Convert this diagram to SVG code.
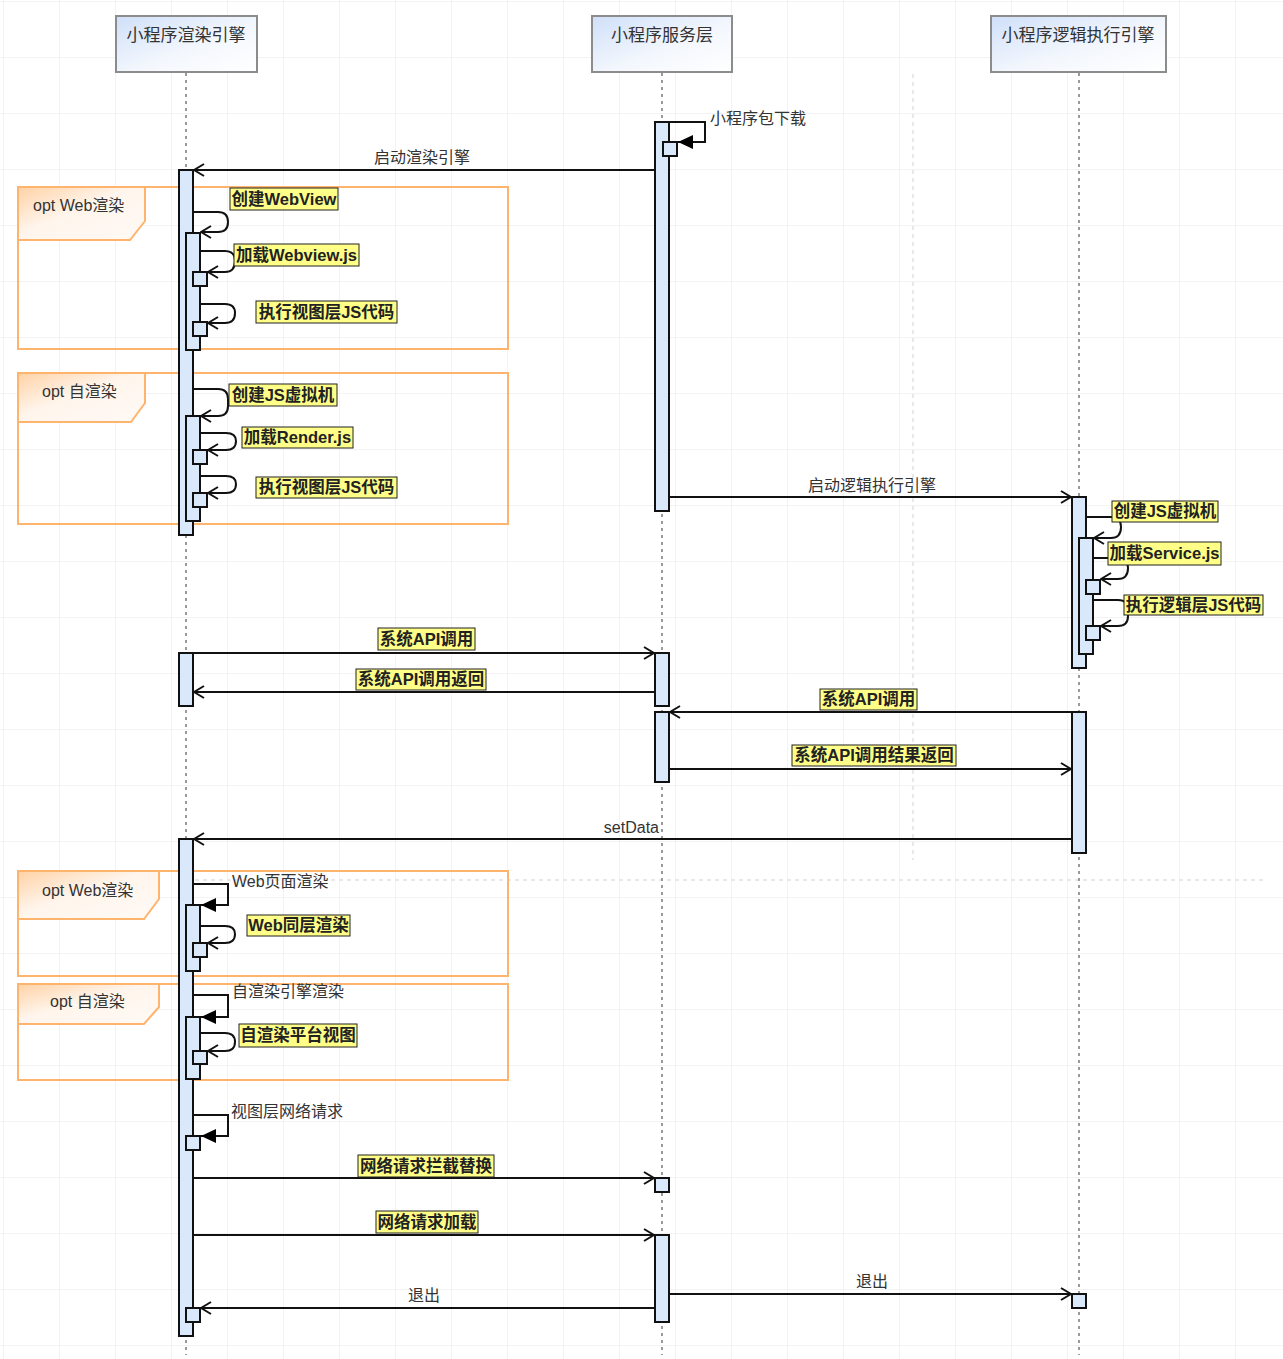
<svg xmlns="http://www.w3.org/2000/svg" width="1283" height="1359" viewBox="0 0 1283 1359">
<defs>
<pattern id="grid" x="3" y="1" width="56" height="56" patternUnits="userSpaceOnUse"><path d="M0 0.5 H56 M0.5 0 V56" fill="none" stroke="#f3f3f3" stroke-width="1"/></pattern>
<linearGradient id="hdrg" x1="0" y1="0" x2="1" y2="1"><stop offset="0" stop-color="#cfdff9"/><stop offset="0.55" stop-color="#f3f7fd"/><stop offset="1" stop-color="#ffffff"/></linearGradient>
<linearGradient id="tabg" x1="0" y1="0" x2="1" y2="1"><stop offset="0" stop-color="#ffd2a6"/><stop offset="0.45" stop-color="#fff5ec"/><stop offset="1" stop-color="#fffaf6"/></linearGradient>
<marker id="open" viewBox="0 0 12 14" refX="11" refY="7" markerWidth="12" markerHeight="14" markerUnits="userSpaceOnUse" orient="auto"><path d="M1 1 L11 7 L1 13" fill="none" stroke="#111" stroke-width="2"/></marker>
<marker id="solid" viewBox="0 0 15 14" refX="15" refY="7" markerWidth="15" markerHeight="14" markerUnits="userSpaceOnUse" orient="auto"><path d="M0 0 L15 7 L0 14 Z" fill="#000"/></marker>
</defs>
<style>
.hdr{fill:url(#hdrg);stroke:#8c8c8c;stroke-width:2}
.hdrt{font-family:"Liberation Sans","Noto Sans CJK SC",sans-serif;font-size:17px;fill:#333;text-anchor:middle}
.life{stroke:#9a9a9a;stroke-width:2;stroke-dasharray:3 4;fill:none}
.guide{stroke:#e2e2e2;stroke-width:1.5;stroke-dasharray:4 4;fill:none}
.act{fill:#dae8fc;stroke:#111;stroke-width:2}
.msg{stroke:#111;stroke-width:2;fill:none}
.async{marker-end:url(#open)}
.sync{marker-end:url(#solid)}
.frame{fill:none;stroke:#ffb46e;stroke-width:2}
.tab{fill:url(#tabg);stroke:#ffb46e;stroke-width:2}
.tabt{font-family:"Liberation Sans","Noto Sans CJK SC",sans-serif;font-size:16px;fill:#333}
.lbl{font-family:"Liberation Sans","Noto Sans CJK SC",sans-serif;font-size:16px;fill:#333}
.mid{text-anchor:middle}
.hl{fill:#ffff88;stroke:#222;stroke-width:1}
.hlt{font-family:"Liberation Sans","Noto Sans CJK SC",sans-serif;font-size:16.5px;font-weight:bold;fill:#222;text-anchor:middle}
</style>
<rect x="0" y="0" width="1283" height="1359" fill="#ffffff"/>
<rect x="0" y="0" width="1283" height="1359" fill="url(#grid)"/>
<path class="guide" d="M913 74 V860 M195 880 H1265"/>

<g id="frames">
<g id="frame-web-1"><rect class="frame" x="18" y="187" width="490" height="162"/><polygon class="tab" points="18,187 145,187 145,221 130,240 18,240"/><text class="tabt" x="33" y="211">opt Web渲染</text></g>
<g id="frame-self-1"><rect class="frame" x="18" y="373" width="490" height="151"/><polygon class="tab" points="18,373 145,373 145,403 131,422 18,422"/><text class="tabt" x="42" y="397">opt 自渲染</text></g>
<g id="frame-web-2"><rect class="frame" x="18" y="871" width="490" height="105"/><polygon class="tab" points="18,871 159,871 159,899 144,919 18,919"/><text class="tabt" x="42" y="896">opt Web渲染</text></g>
<g id="frame-self-2"><rect class="frame" x="18" y="984" width="490" height="96"/><polygon class="tab" points="18,984 159,984 159,1007 144,1024 18,1024"/><text class="tabt" x="50" y="1007">opt 自渲染</text></g>
</g>

<g id="render-engine">
<rect class="hdr" x="116" y="16" width="141" height="56"/>
<text class="hdrt" x="186" y="41">小程序渲染引擎</text>
<path class="life" d="M186 73 V1355"/>
</g>
<g id="service-layer">
<rect class="hdr" x="592" y="16" width="140" height="56"/>
<text class="hdrt" x="662" y="41">小程序服务层</text>
<path class="life" d="M662 73 V1355"/>
</g>
<g id="logic-engine">
<rect class="hdr" x="991" y="16" width="175" height="56"/>
<text class="hdrt" x="1078" y="41">小程序逻辑执行引擎</text>
<path class="life" d="M1079 73 V1355"/>
</g>

<g id="activations">
<rect class="act" x="655" y="122" width="14" height="389"/>
<rect class="act" x="663" y="142" width="14" height="14"/>
<rect class="act" x="179" y="170" width="14" height="365"/>
<rect class="act" x="186" y="233" width="14" height="117"/>
<rect class="act" x="193" y="272" width="14" height="14"/>
<rect class="act" x="193" y="322" width="14" height="14"/>
<rect class="act" x="186" y="416" width="14" height="105"/>
<rect class="act" x="193" y="450" width="14" height="14"/>
<rect class="act" x="193" y="493" width="14" height="14"/>
<rect class="act" x="1072" y="497" width="14" height="171"/>
<rect class="act" x="1079" y="538" width="14" height="116"/>
<rect class="act" x="1086" y="580" width="14" height="14"/>
<rect class="act" x="1086" y="626" width="14" height="14"/>
<rect class="act" x="179" y="653" width="14" height="53"/>
<rect class="act" x="655" y="653" width="14" height="53"/>
<rect class="act" x="655" y="712" width="14" height="70"/>
<rect class="act" x="1072" y="712" width="14" height="141"/>
<rect class="act" x="179" y="839" width="14" height="497"/>
<rect class="act" x="186" y="905" width="14" height="66"/>
<rect class="act" x="193" y="943" width="14" height="14"/>
<rect class="act" x="186" y="1017" width="14" height="62"/>
<rect class="act" x="193" y="1051" width="14" height="13"/>
<rect class="act" x="186" y="1136" width="14" height="14"/>
<rect class="act" x="655" y="1178" width="14" height="14"/>
<rect class="act" x="655" y="1235" width="14" height="87"/>
<rect class="act" x="186" y="1308" width="14" height="14"/>
<rect class="act" x="1072" y="1294" width="14" height="14"/>
</g>

<g id="connectors">
<path class="msg sync" d="M669 122 H705 V142 H678"/>
<path class="msg async" d="M655 170 H194"/>
<path class="msg async" d="M193 212 H218 Q228 212 228 222 Q228 232 218 232 H201"/>
<path class="msg async" d="M200 251 H225 Q235 251 235 261 Q235 272 225 272 H208"/>
<path class="msg async" d="M200 304 H225 Q235 304 235 313 Q235 323 225 323 H208"/>
<path class="msg async" d="M193 389 H218 Q228 389 228 399 V406 Q228 416 218 416 H201"/>
<path class="msg async" d="M200 433 H226 Q236 433 236 441 Q236 450 226 450 H208"/>
<path class="msg async" d="M200 476 H226 Q236 476 236 484 Q236 493 226 493 H208"/>
<path class="msg async" d="M669 497 H1071"/>
<path class="msg async" d="M1086 517 H1111 Q1121 517 1121 527 Q1121 538 1111 538 H1094"/>
<path class="msg async" d="M1093 558 H1118 Q1128 558 1128 568 Q1128 579 1118 579 H1101"/>
<path class="msg async" d="M1093 600 H1118 Q1128 600 1128 610 V616 Q1128 626 1118 626 H1101"/>
<path class="msg async" d="M193 653 H654"/>
<path class="msg async" d="M655 692 H194"/>
<path class="msg async" d="M1072 712 H670"/>
<path class="msg async" d="M669 769 H1071"/>
<path class="msg async" d="M1072 839 H194"/>
<path class="msg sync" d="M193 884 H228 V905 H201"/>
<path class="msg async" d="M200 926 H225 Q235 926 235 934 Q235 943 225 943 H208"/>
<path class="msg sync" d="M193 995 H228 V1017 H201"/>
<path class="msg async" d="M200 1033 H225 Q235 1033 235 1042 Q235 1051 225 1051 H208"/>
<path class="msg sync" d="M193 1115 H228 V1136 H201"/>
<path class="msg async" d="M193 1178 H654"/>
<path class="msg async" d="M193 1235 H654"/>
<path class="msg async" d="M655 1308 H201"/>
<path class="msg async" d="M669 1294 H1071"/>
</g>

<g id="labels">
<text class="lbl" x="710" y="124">小程序包下载</text>
<text class="lbl mid" x="422" y="163">启动渲染引擎</text>
<text class="lbl mid" x="872" y="491">启动逻辑执行引擎</text>
<text class="lbl" x="659" y="833" text-anchor="end">setData</text>
<text class="lbl" x="232" y="887">Web页面渲染</text>
<text class="lbl" x="232" y="997">自渲染引擎渲染</text>
<text class="lbl" x="231" y="1117">视图层网络请求</text>
<text class="lbl mid" x="424" y="1301">退出</text>
<text class="lbl mid" x="872" y="1287">退出</text>

<rect class="hl" x="230" y="188" width="108" height="22"/><text class="hlt" x="284" y="205">创建WebView</text>
<rect class="hl" x="234" y="244" width="125" height="22"/><text class="hlt" x="296.5" y="261">加载Webview.js</text>
<rect class="hl" x="256" y="301" width="141" height="22"/><text class="hlt" x="326.5" y="318">执行视图层JS代码</text>
<rect class="hl" x="229" y="384" width="108" height="22"/><text class="hlt" x="283" y="401">创建JS虚拟机</text>
<rect class="hl" x="242" y="427" width="111" height="21"/><text class="hlt" x="297.5" y="443">加载Render.js</text>
<rect class="hl" x="256" y="477" width="141" height="21"/><text class="hlt" x="326.5" y="493">执行视图层JS代码</text>
<rect class="hl" x="1112" y="501" width="106" height="21"/><text class="hlt" x="1165" y="517">创建JS虚拟机</text>
<rect class="hl" x="1108" y="542" width="113" height="23"/><text class="hlt" x="1164.5" y="559">加载Service.js</text>
<rect class="hl" x="1124" y="595" width="139" height="20"/><text class="hlt" x="1193.5" y="611">执行逻辑层JS代码</text>
<rect class="hl" x="378" y="628" width="97" height="22"/><text class="hlt" x="426.5" y="645">系统API调用</text>
<rect class="hl" x="356" y="669" width="130" height="21"/><text class="hlt" x="421" y="685">系统API调用返回</text>
<rect class="hl" x="820" y="689" width="97" height="21"/><text class="hlt" x="868.5" y="705">系统API调用</text>
<rect class="hl" x="792" y="745" width="164" height="21"/><text class="hlt" x="874" y="761">系统API调用结果返回</text>
<rect class="hl" x="247" y="915" width="103" height="21"/><text class="hlt" x="298.5" y="931">Web同层渲染</text>
<rect class="hl" x="239" y="1024" width="118" height="23"/><text class="hlt" x="298" y="1041">自渲染平台视图</text>
<rect class="hl" x="358" y="1155" width="136" height="22"/><text class="hlt" x="426" y="1172">网络请求拦截替换</text>
<rect class="hl" x="376" y="1211" width="102" height="22"/><text class="hlt" x="427" y="1228">网络请求加载</text>
</g>
</svg>
